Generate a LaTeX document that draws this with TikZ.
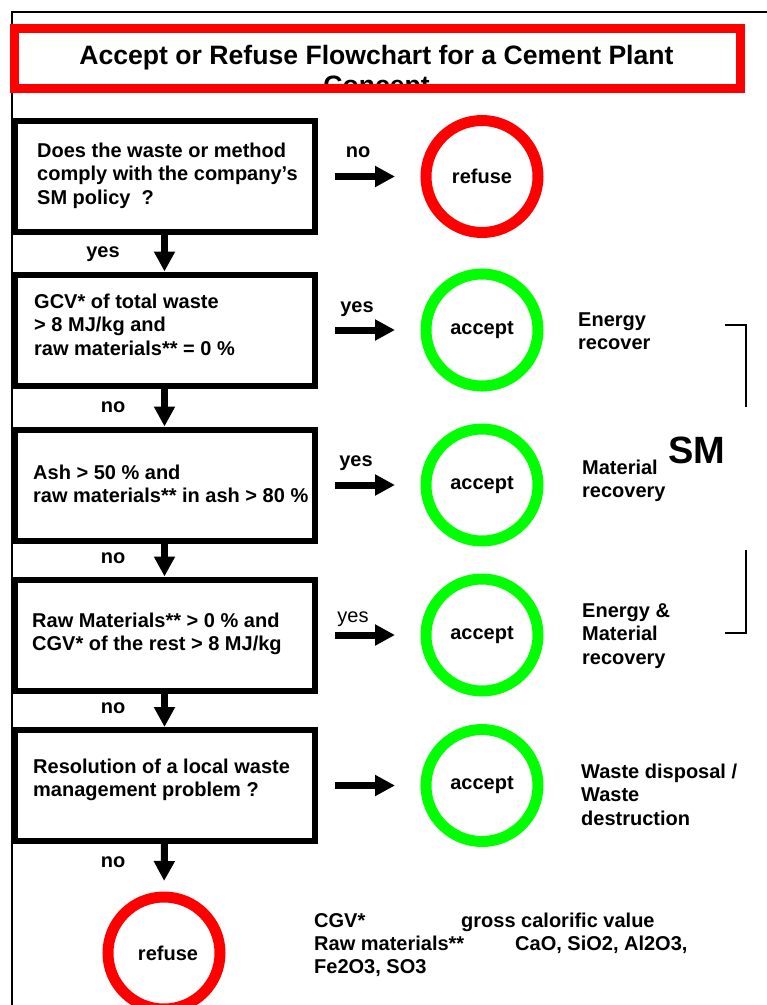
\documentclass[tikz,border=0pt]{standalone}
\usepackage{fontspec}
\setmainfont{Liberation Sans}
\usetikzlibrary{arrows.meta}
\definecolor{ringred}{RGB}{255,0,0}
\definecolor{ringgreen}{RGB}{0,255,0}
\begin{document}
\begin{tikzpicture}[x=1pt,y=-1pt,
  every node/.style={font=\fontsize{20}{23.5}\selectfont\bfseries, inner sep=0pt},
  qbox/.style={draw, line width=6pt, minimum width=300pt, minimum height=111pt},
  qtext/.style={anchor=base west, align=left},
  ring/.style={circle, line width=11pt, minimum size=112pt},
  okring/.style={ring, draw=ringgreen},
  noring/.style={ring, draw=ringred},
  flow/.style={line width=7pt, -{Triangle[length=20pt,width=20pt]}},
  side/.style={flow, shorten <=17.5pt, shorten >=25.5pt},
  lbl/.style={anchor=base},
  note/.style={anchor=base west, align=left},
  bracket/.style={line width=1.5pt}
]
\useasboundingbox (0,0) rectangle (767,1005);
% page frame
\draw[line width=1.5pt] (12,1005) -- (12,12) -- (767,12);

% title (second line cut off by the frame, as in the original)
\begin{scope}
  \clip (19,33) rectangle (736,85);
  \node[font=\fontsize{26.6}{30}\selectfont\bfseries, align=center, anchor=base] (title) at (376.5,94)
    {Accept or Refuse Flowchart for a Cement Plant\\Concept};
\end{scope}
\draw[ringred, line width=9pt] (14.5,28.5) rectangle (740.5,88.5);

% question boxes
\node[qbox] (b1) at (164.5,176.5) {};
\node[qbox] (b2) at (164.5,330) {};
\node[qbox] (b3) at (164.5,485) {};
\node[qbox] (b4) at (164.5,635) {};
\node[qbox] (b5) at (164.5,785.5) {};

% base anchor = baseline of the last line
\node[qtext] (t1) at (37,204) {Does the waste or method\\comply with the company’s\\SM policy\ \ ?};
\node[qtext] (t2) at (34,355) {GCV* of total waste\\> 8 MJ/kg and\\raw materials** = 0 \%};
\node[qtext] (t3) at (33,502.5) {Ash > 50 \% and\\raw materials** in ash > 80 \%};
\node[qtext] (t4) at (32,650.5) {Raw Materials** > 0 \% and\\CGV* of the rest > 8 MJ/kg};
\node[qtext] (t5) at (33,796.5) {Resolution of a local waste\\management problem ?};

% result circles
\node[noring] (r1) at (482,176.5) {refuse};
\node[okring] (a1) at (482,330) {accept};
\node[okring] (a2) at (482,485) {accept};
\node[okring] (a3) at (482,635) {accept};
\node[okring] (a4) at (482,785.5) {accept};
\node[noring] (r2) at (164,953) {\hspace*{8pt}refuse};

% vertical connectors
\draw[flow] (b1.south) -- (b2.north);
\draw[flow] (b2.south) -- (b3.north);
\draw[flow] (b3.south) -- (b4.north);
\draw[flow] (b4.south) -- (b5.north);
\draw[flow, shorten >=10.5pt] (b5.south) -- (r2.north);

% horizontal connectors
\draw[side] (b1.east) -- (r1.west);
\draw[side] (b2.east) -- (a1.west);
\draw[side] (b3.east) -- (a2.west);
\draw[side] (b4.east) -- (a3.west);
\draw[side] (b5.east) -- (a4.west);

% connector labels
\node[lbl] (l1) at (103,257) {yes};
\node[lbl] (l2) at (113,412) {no};
\node[lbl] (l3) at (113,563) {no};
\node[lbl] (l4) at (113,713) {no};
\node[lbl] (l5) at (113,867) {no};
\node[lbl] (h1) at (358,157) {no};
\node[lbl] (h2) at (357,312) {yes};
\node[lbl] (h3) at (356,466) {yes};
\node[lbl, font=\fontsize{20}{23.5}\selectfont\mdseries] (h4) at (353,622) {yes};

% side notes
\node[note] (n1) at (578,349.5) {Energy\\recover};
\node[note] (n2) at (582,497.5) {Material\\recovery};
\node[note] (n3) at (582,664) {Energy \&\\Material\\recovery};
\node[note] (n4) at (581,825) {Waste disposal /\\Waste\\destruction};

\node[anchor=base west, font=\fontsize{38}{40}\selectfont\bfseries] (sm) at (668,463) {SM};
\draw[bracket] (725,325) -- (746,325) -- (746,407);
\draw[bracket] (746,550) -- (746,633) -- (725,633);

% legend
\node[note] (g1) at (314,927) {CGV*};
\node[note] (g2) at (461,927) {gross calorific value};
\node[note] (g3) at (314,950) {Raw materials**};
\node[note] (g4) at (515,950) {CaO, SiO2, Al2O3,};
\node[note] (g5) at (314,973) {Fe2O3, SO3};
\end{tikzpicture}
\end{document}
